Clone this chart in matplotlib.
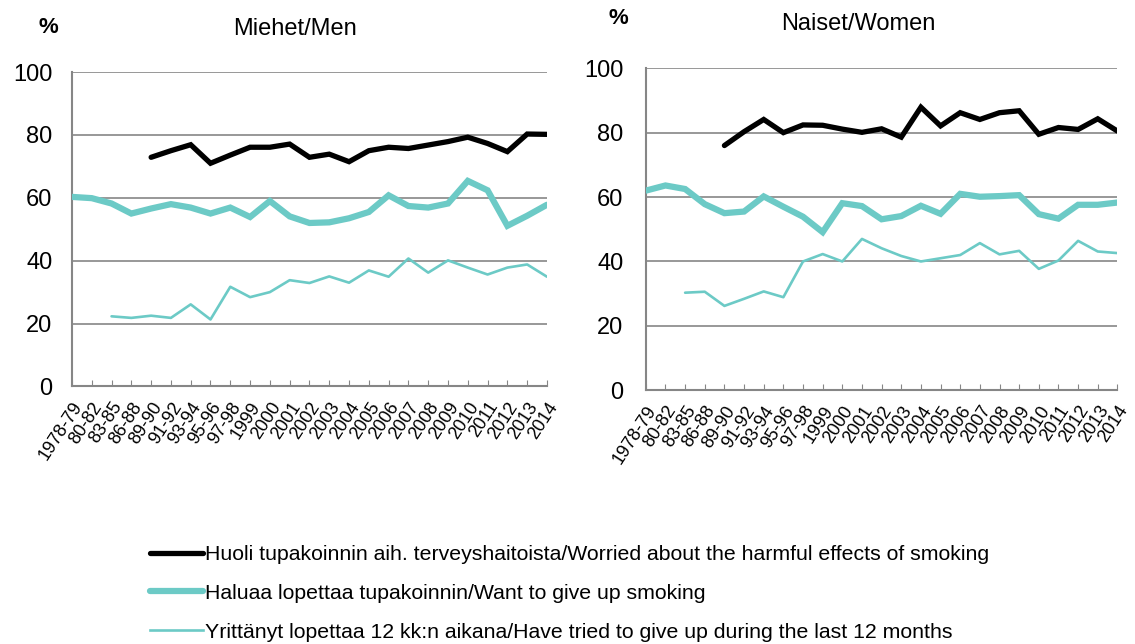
import matplotlib.pyplot as plt
import numpy as np

plt.rcParams["font.family"] = ["Liberation Sans", "DejaVu Sans"]

YEARS = ["1978-79", "80-82", "83-85", "86-88", "89-90", "91-92", "93-94", "95-96", "97-98",
         "1999", "2000", "2001", "2002", "2003", "2004", "2005", "2006", "2007", "2008",
         "2009", "2010", "2011", "2012", "2013", "2014"]

nan = np.nan

# Miehet / Men
men_worried = [nan, nan, nan, nan, 72.9, 75.0, 76.9, 71.0, 73.6, 76.1, 76.1, 77.1, 72.9,
               73.9, 71.5, 75.0, 76.1, 75.7, 76.8, 77.9, 79.3, 77.3, 74.7, 80.3, 80.2]
men_want_quit = [60.3, 59.9, 58.2, 55.0, 56.6, 58.0, 56.9, 55.0, 56.9, 53.9, 59.0, 54.1, 52.0,
                 52.2, 53.5, 55.5, 60.8, 57.4, 56.9, 58.2, 65.4, 62.4, 51.1, 54.3, 57.8]
men_tried = [nan, nan, 22.3, 21.8, 22.5, 21.8, 26.1, 21.3, 31.7, 28.4, 30.0, 33.8, 32.9,
             35.0, 33.0, 36.9, 34.9, 40.7, 36.2, 40.1, 37.8, 35.6, 37.8, 38.8, 34.9]

# Naiset / Women
women_worried = [nan, nan, nan, nan, 76.0, 80.3, 84.1, 80.0, 82.4, 82.3, 81.1, 80.1, 81.2,
                 78.6, 87.9, 82.1, 86.2, 84.1, 86.2, 86.8, 79.5, 81.6, 81.0, 84.3, 80.5]
women_want_quit = [62.0, 63.6, 62.5, 57.8, 55.0, 55.5, 60.2, 57.0, 53.9, 49.1, 58.1, 57.2, 53.1,
                   54.1, 57.3, 54.8, 61.0, 60.1, 60.3, 60.6, 54.7, 53.3, 57.6, 57.6, 58.3]
women_tried = [nan, nan, 30.3, 30.6, 26.2, 28.4, 30.7, 28.9, 40.0, 42.3, 40.0, 47.0, 44.1,
               41.7, 40.0, 41.0, 42.0, 45.7, 42.2, 43.3, 37.7, 40.3, 46.4, 43.1, 42.6]

LABELS = ["Huoli tupakoinnin aih. terveyshaitoista/Worried about the harmful effects of smoking",
          "Haluaa lopettaa tupakoinnin/Want to give up smoking",
          "Yrittänyt lopettaa 12 kk:n aikana/Have tried to give up during the last 12 months"]

TEAL = "#6ccac6"
GRAY = "#868686"

fig = plt.figure(figsize=(11.35, 6.44), dpi=100)
ax1 = fig.add_axes([0.0634, 0.400, 0.4185, 0.488])
ax2 = fig.add_axes([0.569, 0.394, 0.4155, 0.500])


def draw_panel(ax, worried, want, tried, title, title_x, title_y, pct_x, pct_y, ypad):
    x = np.arange(len(YEARS))
    ax.plot(x, worried, color="black", lw=3.8, solid_capstyle="round", solid_joinstyle="miter", zorder=3)
    ax.plot(x, want, color=TEAL, lw=4.5, solid_capstyle="round", solid_joinstyle="miter", zorder=3)
    ax.plot(x, tried, color=TEAL, lw=1.9, solid_capstyle="round", zorder=3)
    ax.set_xlim(0, len(YEARS) - 1)
    ax.set_ylim(0, 100)
    ax.set_yticks(np.arange(0, 101, 20))
    ax.yaxis.grid(True, color=GRAY, lw=1.2)
    ax.set_axisbelow(True)
    for s in ["top", "right"]:
        ax.spines[s].set_visible(False)
    for s in ["left", "bottom"]:
        ax.spines[s].set_color(GRAY)
        ax.spines[s].set_linewidth(1.5)
    ax.set_xticks(x)
    ax.set_xticklabels(YEARS, rotation=57, ha="right", rotation_mode="anchor", fontsize=13)
    ax.tick_params(axis="x", direction="in", length=4, color=GRAY, pad=9)
    ax.tick_params(axis="y", length=0, labelsize=17, pad=ypad)
    fig.text(title_x, title_y, title, fontsize=17, ha="center", va="center")
    fig.text(pct_x, pct_y, "%", fontsize=16, fontweight="bold", ha="center", va="center")


draw_panel(ax1, men_worried, men_want_quit, men_tried, "Miehet/Men", 0.260, 0.955, 0.043, 0.957, 14)
draw_panel(ax2, women_worried, women_want_quit, women_tried, "Naiset/Women", 0.756, 0.963, 0.545, 0.972, 16)

# legend
handles = [plt.Line2D([], [], color="black", lw=3.8, solid_capstyle="round"),
           plt.Line2D([], [], color=TEAL, lw=4.5, solid_capstyle="round"),
           plt.Line2D([], [], color=TEAL, lw=1.9)]
fig.legend(handles, LABELS, loc="lower left", bbox_to_anchor=(0.115, -0.026), frameon=False,
           fontsize=15.3, handlelength=2.5, handletextpad=0.1, labelspacing=0.93)

fig.savefig("out.png", dpi=100)
